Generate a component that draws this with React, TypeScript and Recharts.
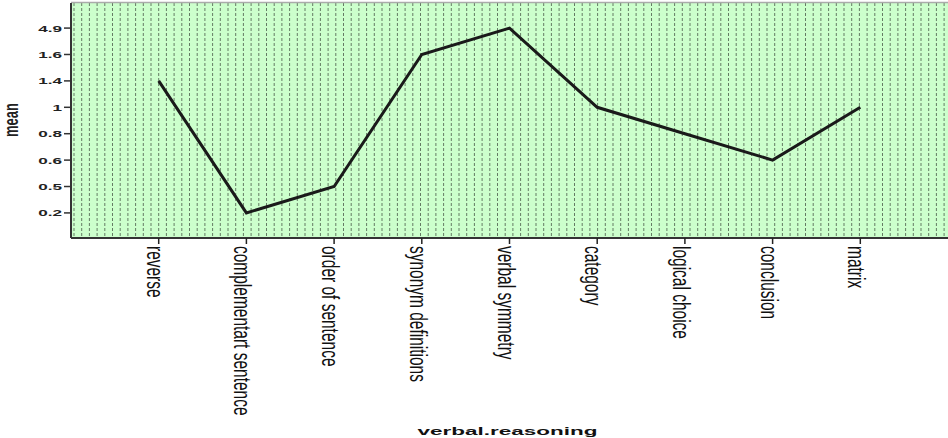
import React from "react";
import { LineChart, Line, XAxis, YAxis, CartesianGrid } from "recharts";

// categories of verbal reasoning, in display order
const categories = [
  "reverse",
  "complementart sentence",
  "order of sentence",
  "synonym definitions",
  "verbal symmetry",
  "category",
  "logical choice",
  "conclusion",
  "matrix",
];

// the y axis of the original is ordinal: each distinct mean gets its own evenly spaced row
const yTickLabels = ["0.2", "0.5", "0.6", "0.8", "1", "1.4", "1.6", "4.9"];

const meanValues = ["1.4", "0.2", "0.5", "1.6", "4.9", "1", "0.8", "0.6", "1"];

const chartData = categories.map((name, i) => ({
  name,
  pos: i + 1,
  mean: yTickLabels.indexOf(meanValues[i]),
}));

const WIDTH = 948;
const HEIGHT = 438;
const PLOT_LEFT = 71;
const FONT = "'Liberation Sans', Arial, sans-serif";

const gridXs: number[] = [];
for (let x = PLOT_LEFT + 3; x < WIDTH; x += 7.7) gridXs.push(x);

function XTick(props: any) {
  const { x, y, payload } = props;
  return (
    <g>
      <line x1={x} y1={y - 8} x2={x} y2={y - 2} stroke="#222" strokeWidth={1.5} />
      <text
        transform={`translate(${x - 12},${y}) rotate(90) scale(1,1.6)`}
        fontFamily={FONT}
        fontSize={15.5}
        fill="#111"
        textAnchor="start"
      >
        {categories[payload.value - 1]}
      </text>
    </g>
  );
}

function YTick(props: any) {
  const { x, y, payload } = props;
  return (
    <g>
      <line x1={x + 1} y1={y} x2={x + 9} y2={y} stroke="#333" strokeWidth={1.5} />
      <text
        transform={`translate(${x - 1},${y + 3.5}) scale(1.8,1)`}
        fontFamily={FONT}
        fontSize={9.5}
        fontWeight="bold"
        fill="#222"
        textAnchor="end"
      >
        {yTickLabels[payload.value]}
      </text>
    </g>
  );
}

function App() {
  return (
    <div
      style={{
        position: "absolute",
        left: 0,
        top: 0,
        width: WIDTH,
        height: HEIGHT,
        background: "#fff",
        overflow: "hidden",
      }}
    >
      <LineChart
        width={WIDTH}
        height={HEIGHT}
        data={chartData}
        margin={{ top: 3, right: 0, left: 0, bottom: 0 }}
      >
        <CartesianGrid
          horizontal={false}
          verticalPoints={gridXs}
          fill="#ccffcc"
          fillOpacity={1}
          stroke="#4a5a4a"
          strokeOpacity={0.8}
          strokeDasharray="3 2"
        />
        <line x1={PLOT_LEFT} y1={2.5} x2={WIDTH} y2={2.5} stroke="#aaa" strokeWidth={1.5} />
        <XAxis
          dataKey="pos"
          type="number"
          domain={[0, 10]}
          ticks={[1, 2, 3, 4, 5, 6, 7, 8, 9]}
          height={200}
          axisLine={{ stroke: "#333", strokeWidth: 2 }}
          tickLine={false}
          tick={<XTick />}
          label={{
            content: () => (
              <text
                transform={`translate(${PLOT_LEFT + (WIDTH - PLOT_LEFT) / 2 - 2},435) scale(2.25,1)`}
                fontFamily={FONT}
                fontSize={10}
                fontWeight="bold"
                fill="#111"
                textAnchor="middle"
              >
                verbal.reasoning
              </text>
            ),
          }}
        />
        <YAxis
          type="number"
          domain={[-0.95, 7.95]}
          ticks={[0, 1, 2, 3, 4, 5, 6, 7]}
          width={PLOT_LEFT}
          axisLine={{ stroke: "#333", strokeWidth: 2 }}
          tickLine={false}
          tick={<YTick />}
          label={{
            content: () => (
              <text
                transform="translate(18,120) rotate(-90) scale(1,1.5)"
                fontFamily={FONT}
                fontSize={13}
                fontWeight="bold"
                fill="#222"
                textAnchor="middle"
              >
                mean
              </text>
            ),
          }}
        />
        <Line
          type="linear"
          dataKey="mean"
          stroke="#1a1a1a"
          strokeWidth={3}
          dot={false}
          isAnimationActive={false}
        />
      </LineChart>
    </div>
  );
}

export default App;
